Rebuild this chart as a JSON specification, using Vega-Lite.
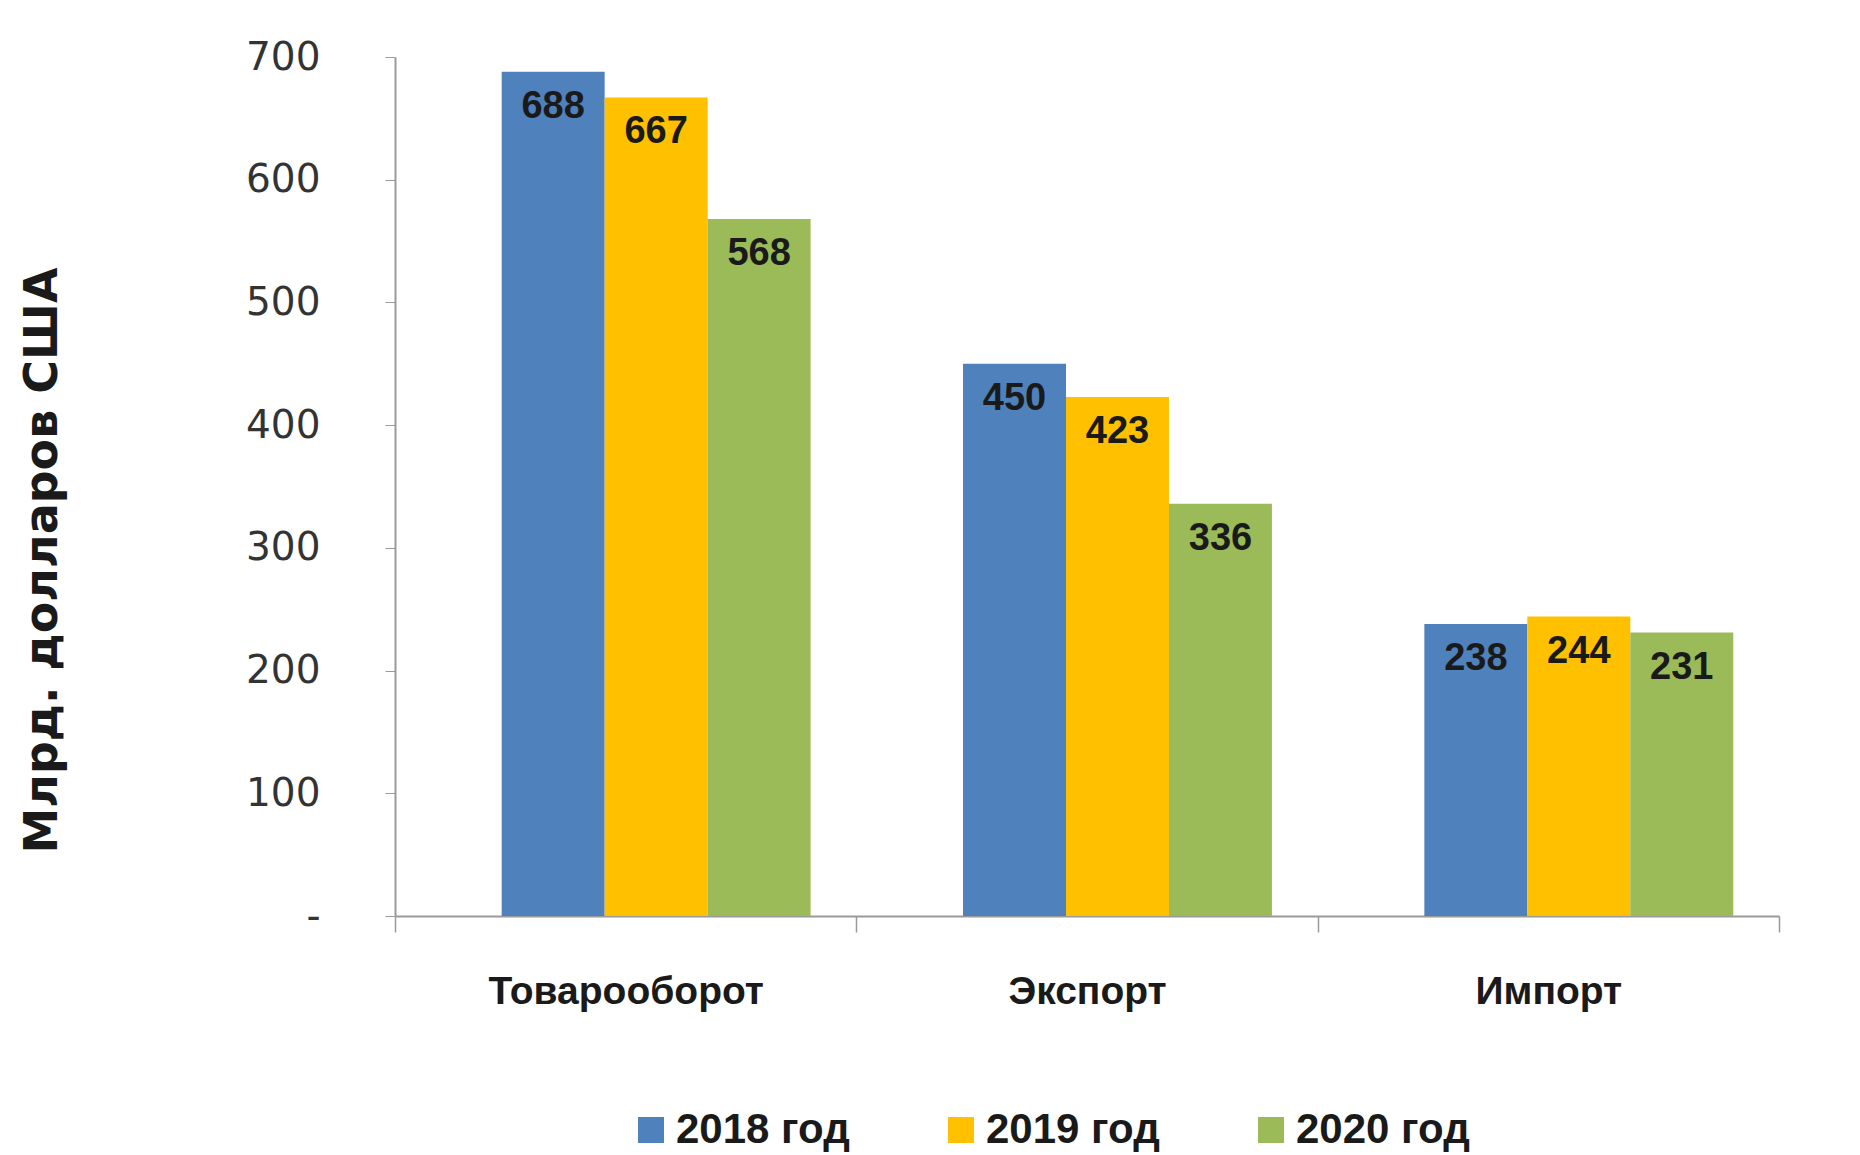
{
  "$schema": "https://vega.github.io/schema/vega-lite/v6.json",
  "autosize": {"type": "none"},
  "width": 1384,
  "height": 859,
  "padding": {"left": 395, "top": 57, "right": 81, "bottom": 239},
  "background": "white",
  "config": {"view": {"stroke": null}},
  "data": {
    "values": [
      {"cat": "Товарооборот", "year": "2018 год", "value": 688},
      {"cat": "Товарооборот", "year": "2019 год", "value": 667},
      {"cat": "Товарооборот", "year": "2020 год", "value": 568},
      {"cat": "Экспорт", "year": "2018 год", "value": 450},
      {"cat": "Экспорт", "year": "2019 год", "value": 423},
      {"cat": "Экспорт", "year": "2020 год", "value": 336},
      {"cat": "Импорт", "year": "2018 год", "value": 238},
      {"cat": "Импорт", "year": "2019 год", "value": 244},
      {"cat": "Импорт", "year": "2020 год", "value": 231}
    ]
  },
  "encoding": {
    "x": {
      "field": "cat", "type": "nominal", "sort": ["Товарооборот", "Экспорт", "Импорт"],
      "scale": {"paddingInner": 0, "paddingOuter": 0},
      "axis": {
        "title": null, "labelAngle": 0, "tickBand": "extent", "labelLimit": 0,
        "labelFont": "Liberation Sans", "labelFontWeight": "bold", "labelFontSize": 39,
        "labelColor": "#1a1a1a", "labelPadding": 40, "tickSize": 16, "tickColor": "#9a9a9a",
        "domainColor": "#9a9a9a", "domainWidth": 2, "tickWidth": 1.5
      }
    },
    "xOffset": {
      "field": "year", "type": "nominal",
      "scale": {"paddingInner": 0, "paddingOuter": 0.74, "align": 0.7}
    },
    "y": {
      "field": "value", "type": "quantitative",
      "scale": {"domain": [0, 700], "nice": false},
      "axis": {
        "values": [0, 100, 200, 300, 400, 500, 600, 700],
        "labelExpr": "datum.value == 0 ? '-' : datum.label",
        "grid": false, "tickSize": 10, "labelPadding": 65,
        "labelFont": "DejaVu Sans", "labelFontSize": 39, "labelColor": "#333333",
        "tickColor": "#9a9a9a", "domainColor": "#9a9a9a", "domainWidth": 2,
        "title": "Млрд. долларов США",
        "titleFont": "DejaVu Sans", "titleFontWeight": "bold", "titleFontSize": 46,
        "titleColor": "#1a1a1a", "titleAngle": 270, "titleX": -353, "titleY": 503,
        "titleAlign": "center", "titleBaseline": "middle"
      }
    }
  },
  "layer": [
    {
      "mark": {"type": "bar"},
      "encoding": {
        "color": {
          "field": "year", "type": "nominal",
          "scale": {"domain": ["2018 год", "2019 год", "2020 год"], "range": ["#4F81BD", "#FFC000", "#9BBB59"]},
          "legend": {
            "title": null, "orient": "none", "direction": "horizontal",
            "legendX": 235, "legendY": 1052,
            "symbolType": "square", "symbolSize": 676, "symbolStrokeWidth": 0,
            "labelFont": "Liberation Sans", "labelFontWeight": "bold", "labelFontSize": 42,
            "labelColor": "#1a1a1a", "labelOffset": 4, "columnPadding": 90, "labelLimit": 400
          }
        }
      }
    },
    {
      "mark": {"type": "text", "baseline": "middle", "align": "center", "dy": 35,
        "font": "Liberation Sans", "fontWeight": "bold", "fontSize": 38, "color": "#1a1a1a"},
      "encoding": {"text": {"field": "value", "type": "quantitative"}}
    }
  ]
}
